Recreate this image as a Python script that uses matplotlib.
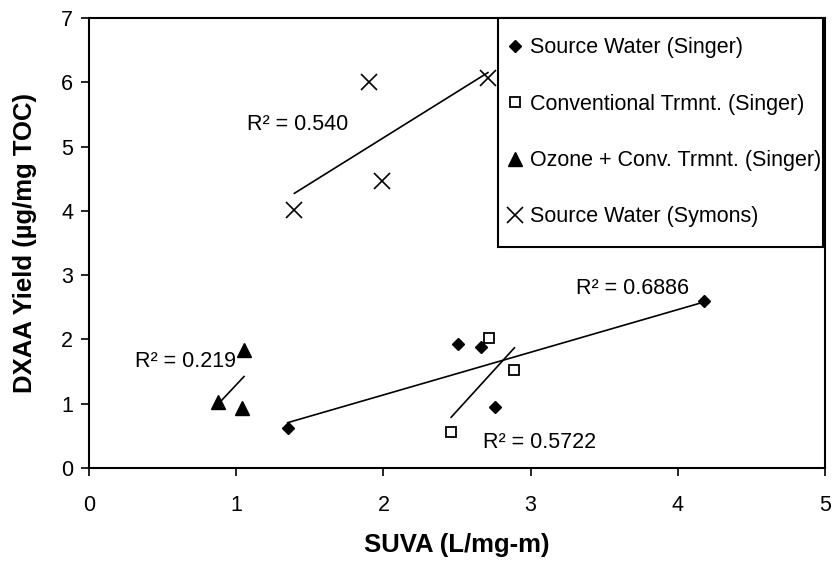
'''
plot.py
DXAA yield vs SUVA scatter with linear trend lines
'''

import numpy as np
import matplotlib
matplotlib.use('Agg')
import matplotlib.pyplot as plt
from matplotlib.patches import Rectangle

plt.rcParams['font.family'] = ['Liberation Sans', 'DejaVu Sans']

# Data
sw_singer_x = [1.35, 2.51, 2.66, 2.76, 4.18]
sw_singer_y = [0.62, 1.93, 1.88, 0.95, 2.60]

conv_x = [2.72, 2.89, 2.46]
conv_y = [2.02, 1.52, 0.56]

ozone_x = [1.053, 0.878, 1.04]
ozone_y = [1.84, 1.03, 0.94]

symons_x = [1.395, 1.90, 1.99, 2.71]
symons_y = [4.01, 6.00, 4.47, 6.06]

labels = ['Source Water (Singer)', 'Conventional Trmnt. (Singer)',
          'Ozone + Conv. Trmnt. (Singer)', 'Source Water (Symons)']
r2_text = ['R² = 0.6886', 'R² = 0.5722', 'R² = 0.219', 'R² = 0.540']
r2_pos = [(3.31, 2.79), (2.68, 0.40), (0.31, 1.65), (1.07, 5.35)]

FS = 15.5
W, H = 833, 562

# Linear trend line over the data range
def trend(ax, x, y):
	x = np.asarray(x)
	y = np.asarray(y)
	m, b = np.polyfit(x, y, 1)
	xs = np.array([x.min(), x.max()])
	ax.plot(xs, m * xs + b, color='k', lw=1.2, zorder=2)

fig = plt.figure(figsize=(W/100, H/100), dpi=100)
ax = fig.add_axes([89/W, 1 - 468/H, (825 - 89)/W, (468 - 18)/H])

for x, y in [(sw_singer_x, sw_singer_y), (conv_x, conv_y), (ozone_x, ozone_y), (symons_x, symons_y)]:
	trend(ax, x, y)

ax.plot(sw_singer_x, sw_singer_y, 'D', color='k', ms=6.5, ls='none', label=labels[0], zorder=3)
ax.plot(conv_x, conv_y, 's', mfc='white', mec='k', mew=1.3, ms=7.5, ls='none', label=labels[1], zorder=3)
ax.plot(ozone_x, ozone_y, '^', color='k', ms=9.5, ls='none', label=labels[2], zorder=3)
ax.plot(symons_x, symons_y, 'x', color='k', mew=1.2, ms=12, ls='none', label=labels[3], zorder=3)

for t, (tx, ty) in zip(r2_text, r2_pos):
	ax.text(tx, ty, t, fontsize=FS, ha='left', va='center')

ax.set_xlim(0, 5)
ax.set_ylim(0, 7)
ax.set_xticks(range(0, 6))
ax.set_yticks(range(0, 8))
ax.tick_params(direction='out', length=5.5, width=1.2, labelsize=FS)
ax.tick_params(axis='x', pad=14)
ax.tick_params(axis='y', pad=6)
for s in ax.spines.values():
	s.set_linewidth(1.5)

ax.set_xlabel('SUVA (L/mg-m)', fontsize=18.5, fontweight='bold', va='center')
ax.set_ylabel('DXAA Yield (µg/mg TOC)', fontsize=18.5, fontweight='bold', va='center')
ax.xaxis.set_label_coords(0.5, (468 - 545) / 450)
ax.yaxis.set_label_coords((25 - 89) / 736, 0.5)

# legend entries without frame, frame drawn as a box behind them
box = Rectangle((498/W, 1 - 247/H), 325/W, 229/H, transform=fig.transFigure,
	facecolor='white', edgecolor='k', lw=1.5, zorder=5, clip_on=False)
ax.add_patch(box)
leg = ax.legend(loc='upper left', bbox_to_anchor=(506/W, 1 - 37.5/H),
	bbox_transform=fig.transFigure, borderaxespad=0, borderpad=0, fontsize=FS,
	numpoints=1, handlelength=0.8, handletextpad=0.33, labelspacing=1.64,
	frameon=False)
leg.set_zorder(6)

fig.savefig('out.png', dpi=100)
